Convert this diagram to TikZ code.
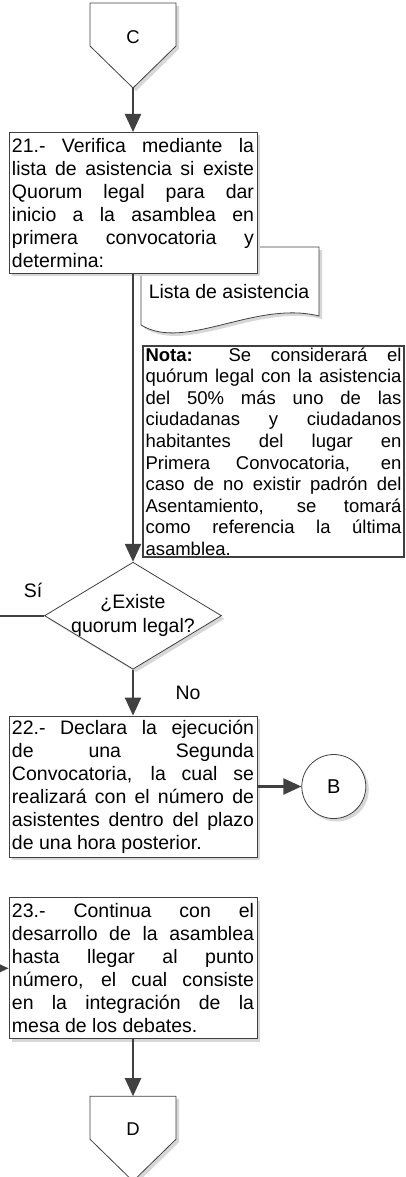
\documentclass[tikz,border=0pt]{standalone}
\usepackage{fontspec}
\setmainfont{Liberation Sans}
\usetikzlibrary{shapes.geometric,arrows.meta,positioning,shadows,calc}
\definecolor{linegray}{RGB}{64,64,64}
\definecolor{shadegray}{RGB}{215,215,215}
\tikzset{
  sombra/.style={drop shadow={shadow xshift=3pt, shadow yshift=-3pt, fill=shadegray, opacity=1}},
  procbox/.style={rectangle, draw=linegray, line width=0.8pt, fill=white, sombra,
    minimum width=248pt, minimum height=141pt, text width=242pt, inner xsep=3pt, inner ysep=0pt,
    align=justify, font=\fontsize{19.5pt}{23pt}\selectfont},
  notebox/.style={rectangle, draw=linegray, line width=2pt, fill=white,
    minimum width=261pt, minimum height=211pt, text width=256pt, inner xsep=2.5pt, inner ysep=0pt,
    align=justify, font=\fontsize{18.5pt}{21.6pt}\selectfont},
  decbox/.style={diamond, draw=linegray, line width=0.8pt, fill=white, sombra, aspect=1.65,
    minimum width=177pt, minimum height=107pt, inner xsep=-5pt, inner ysep=-3pt, align=center,
    font=\fontsize{19.5pt}{24pt}\selectfont},
  conbox/.style={circle, draw=linegray, line width=0.8pt, fill=white, sombra, minimum size=64pt,
    inner sep=0pt, font=\fontsize{20pt}{23pt}\selectfont},
  offpage/.style={draw=linegray, line width=0.8pt, fill=white, sombra},
  docshape/.style={draw=linegray, line width=0.8pt, fill=white, sombra},
  lbl/.style={inner sep=0pt, font=\fontsize{19.5pt}{23pt}\selectfont},
  offlbl/.style={inner sep=0pt, font=\fontsize{18.5pt}{20pt}\selectfont},
  arrow/.style={-{Triangle[length=18pt, width=16pt]}, draw=linegray, line width=2.2pt},
}

\begin{document}
\begin{tikzpicture}[x=1pt, y=1pt]
  \useasboundingbox (0,0) rectangle (406,-1177);
  \clip (0,0) rectangle (406,-1177);

  % Conector C
  \coordinate (offC-top) at (133,-3);
  \draw[offpage] ($(offC-top)+(-43,0)$) -- ++(86,0) -- ++(0,-43) -- ++(-43,-42) -- ++(-43,42) -- cycle;
  \node[offlbl] (offC) at ($(offC-top)+(0,-34)$) {C};
  \coordinate (offC-tip) at ($(offC-top)+(0,-85)$);

  % Documento
  \draw[docshape] (141,-325) -- (141,-247) -- (319,-247) -- (319,-316)
    .. controls (255,-300) and (185,-352) .. (141,-325) -- cycle;
  \node[lbl] (lista) at (229,-292) {Lista de asistencia};

  % Paso 21
  \node[procbox, below=44pt of offC-tip] (paso21) {21.- Verifica mediante la\linebreak
    lista de asistencia si existe\linebreak
    Quorum legal para dar\linebreak
    inicio a la asamblea en\linebreak
    primera convocatoria y\linebreak
    determina:};

  % Nota
  \node[notebox] (nota) at (273.5,-451.5) {\textbf{Nota:} Se considerará el\linebreak
    quórum legal con la asistencia\linebreak
    del 50\% más uno de las\linebreak
    ciudadanas y ciudadanos\linebreak
    habitantes del lugar en\linebreak
    Primera Convocatoria, en\linebreak
    caso de no existir padrón del\linebreak
    Asentamiento, se tomará\linebreak
    como referencia la última\linebreak
    asamblea.};

  % Decision
  \node[decbox, below=288pt of paso21] (dec) {¿Existe\\quorum legal?};
  \node[lbl] (si) at (33,-590) {Sí};
  \node[lbl] (no) at (188,-693) {No};

  % Paso 22
  \node[procbox, below=46pt of dec] (paso22) {22.- Declara la ejecución\linebreak
    de una Segunda\linebreak
    Convocatoria, la cual se\linebreak
    realizará con el número de\linebreak
    asistentes dentro del plazo\linebreak
    de una hora posterior.};
  \node[conbox, right=44pt of paso22] (conB) {B};

  % Paso 23
  \node[procbox, below=40pt of paso22] (paso23) {23.- Continua con el\linebreak
    desarrollo de la asamblea\linebreak
    hasta llegar al punto\linebreak
    número, el cual consiste\linebreak
    en la integración de la\linebreak
    mesa de los debates.};

  % Conector D
  \coordinate[below=57pt of paso23] (offD-top);
  \draw[offpage] ($(offD-top)+(-43,0)$) -- ++(86,0) -- ++(0,-43) -- ++(-43,-42) -- ++(-43,42) -- cycle;
  \node[offlbl] (offD) at ($(offD-top)+(0,-33)$) {D};

  % Arrows
  \draw[arrow] (offC-tip) -- (paso21);
  \draw[arrow] (paso21) -- (dec);
  \draw[arrow] (dec) -- (paso22);
  \draw[arrow] (paso22) -- (conB);
  \draw[arrow] (dec.west) -- ++(-60,0) |- (paso23.west);
  \draw[arrow] (paso23) -- (offD-top);

\end{tikzpicture}
\end{document}
